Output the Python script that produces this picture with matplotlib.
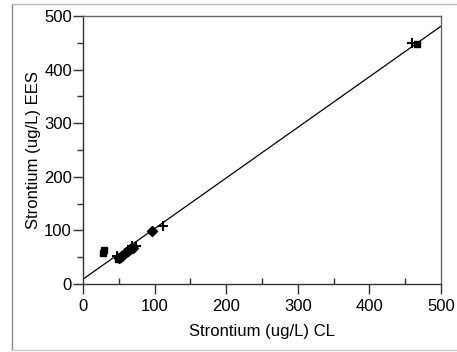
import numpy as np
import matplotlib
matplotlib.use('Agg')
import matplotlib.pyplot as plt
from matplotlib.lines import Line2D
from matplotlib.ticker import MultipleLocator

plt.rcParams['font.family'] = ['Liberation Sans', 'DejaVu Sans']

# Strontium, CL vs EES (ug/L)
sq_x = [28, 29, 49, 52, 467]
sq_y = [57, 63, 47, 51, 447]
dia_x = [50, 55, 60, 63, 66, 70, 96]
dia_y = [48, 53, 60, 62, 66, 68, 98]
plus_x = [47, 58, 68, 74, 112, 460]
plus_y = [52, 58, 70, 71, 108, 449]

# fitted line
fit_b = 9.0
fit_m = 0.944
line_x = [0, 500]

fig = plt.figure(figsize=(4.57, 3.52), dpi=100)
ax = fig.add_axes([83/457, 68/352, 358/457, 268/352])

ax.plot(line_x, [fit_b + fit_m*v for v in line_x], color='black', lw=0.9)
ax.scatter(sq_x, sq_y, marker='s', s=24, color='black', zorder=3)
ax.scatter(dia_x, dia_y, marker='D', s=26, color='black', zorder=3)
ax.scatter(plus_x, plus_y, marker='+', s=60, color='black', linewidths=1.5, zorder=3)

ax.set_xlim(0, 500)
ax.set_ylim(0, 500)
ax.xaxis.set_major_locator(MultipleLocator(100))
ax.xaxis.set_minor_locator(MultipleLocator(50))
ax.yaxis.set_major_locator(MultipleLocator(100))
ax.yaxis.set_minor_locator(MultipleLocator(50))
ax.tick_params(which='major', length=7, width=1, color='#333333', labelsize=12, pad=1)
ax.tick_params(which='minor', length=4, width=1, color='#333333')
ax.tick_params(axis='x', which='minor', direction='in')
ax.tick_params(axis='x', which='major', pad=4)

for s in ['left', 'bottom']:
    ax.spines[s].set_color('#333333')
    ax.spines[s].set_linewidth(1)
for s in ['top', 'right']:
    ax.spines[s].set_color('#666666')
    ax.spines[s].set_linewidth(1)

ax.set_xlabel('Strontium (ug/L) CL', fontsize=12, labelpad=7)
ax.set_ylabel('Strontium (ug/L) EES', fontsize=12, labelpad=2)

# outer frame
fig.add_artist(Line2D([12/457, 12/457], [2/352, 348/352], color='#888888', lw=1))
fig.add_artist(Line2D([12/457, 1], [348/352, 348/352], color='#bbbbbb', lw=1))
fig.add_artist(Line2D([12/457, 1], [2/352, 2/352], color='#cccccc', lw=1))

fig.savefig('out.png', dpi=100)
